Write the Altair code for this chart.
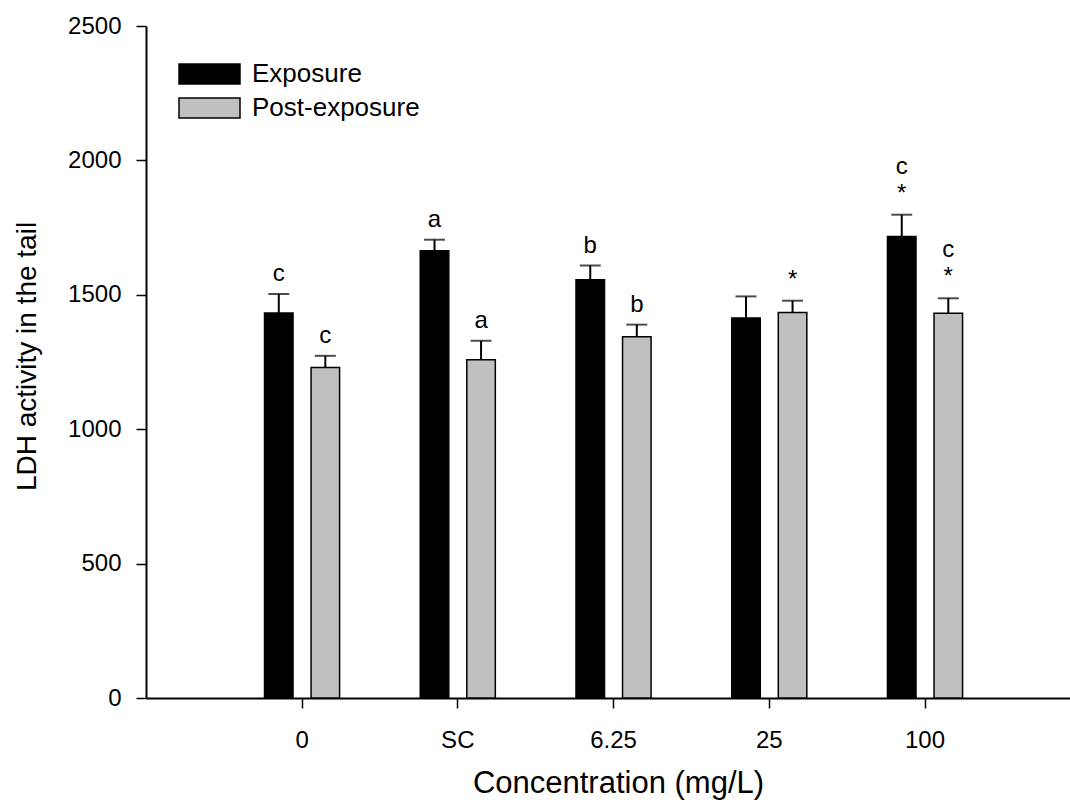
import altair as alt
import pandas as pd

categories = ["0", "SC", "6.25", "25", "100"]
groups = ["Exposure", "Post-exposure"]
exposure_mean = [1432, 1664, 1556, 1414, 1717]
exposure_err = [71, 41, 53, 80, 81]
post_mean = [1230, 1258, 1344, 1434, 1431]
post_err = [43, 71, 45, 44, 56]
exposure_letter = ["c", "a", "b", "", "c"]
post_letter = ["c", "a", "b", "", "c"]
exposure_star = ["", "", "", "", "*"]
post_star = ["", "", "", "*", "*"]
y_ticks = [0, 500, 1000, 1500, 2000, 2500]

rows = []
for i, c in enumerate(categories):
    rows.append(dict(conc=c, group=groups[0], mean=exposure_mean[i], err=exposure_err[i],
                     letter=exposure_letter[i], star=exposure_star[i]))
    rows.append(dict(conc=c, group=groups[1], mean=post_mean[i], err=post_err[i],
                     letter=post_letter[i], star=post_star[i]))
df = pd.DataFrame(rows)

FONT = "Liberation Sans"

xscale = alt.Scale(paddingInner=0.518, paddingOuter=0.7254, align=0.5245)
xaxis = alt.Axis(title="Concentration (mg/L)", titleFontSize=31, titleFont=FONT,
                 titleFontWeight="normal", titleColor="black",
                 titleX=472, titleY=94, titleBaseline="alphabetic", titleAnchor="start",
                 titleAlign="center",
                 labelFontSize=24, labelFont=FONT, labelColor="black", labelAngle=0,
                 labelBaseline="alphabetic", labelPadding=39,
                 tickSize=10, tickWidth=1.5, tickColor="black",
                 domainColor="black", domainWidth=2, grid=False)
yscale = alt.Scale(domain=[0, 2500], nice=False)
yaxis = alt.Axis(title="LDH activity in the tail", titleFontSize=28, titleFont=FONT,
                 titleFontWeight="normal", titleColor="black",
                 titleX=-111, titleY=330, titleBaseline="alphabetic", titleAngle=270,
                 titleAlign="center", format="d",
                 values=y_ticks, labelFontSize=24, labelFont=FONT, labelColor="black",
                 labelPadding=15, tickSize=10, tickWidth=1.5, tickColor="black",
                 domainColor="black", domainWidth=2, grid=False)

X = alt.X("conc:N", sort=categories, scale=xscale, axis=xaxis)
XO = alt.XOffset("group:N", sort=groups, scale=alt.Scale(paddingInner=0.387, paddingOuter=0))

base = alt.Chart(df).transform_calculate(hi="datum.mean + datum.err")

legend = alt.Legend(title=None, orient="none", legendX=32, legendY=37, padding=0,
                    symbolType="M-1,-0.328L1,-0.328L1,0.328L-1,0.328Z", symbolSize=3721,
                    symbolStrokeColor="black", symbolStrokeWidth=1.5, symbolOpacity=1,
                    clipHeight=22, rowPadding=8, labelFontSize=26, labelFont=FONT,
                    labelColor="black", labelOffset=11, labelLimit=400)

bars = base.mark_bar(stroke="black", strokeWidth=1.5).encode(
    x=X, xOffset=XO,
    y=alt.Y("mean:Q", scale=yscale, axis=yaxis),
    color=alt.Color("group:N", sort=groups,
                    scale=alt.Scale(domain=groups, range=["#000000", "#c0c0c0"]),
                    legend=legend),
)

err_rule = base.mark_rule(color="black", strokeWidth=2).encode(
    x=X, xOffset=XO,
    y=alt.Y("mean:Q", scale=yscale, axis=yaxis), y2="hi:Q",
)

err_cap = base.mark_tick(color="black", thickness=2, size=21, orient="horizontal").encode(
    x=X, xOffset=XO,
    y=alt.Y("hi:Q", scale=yscale, axis=yaxis),
)

txt_kw = dict(font=FONT, fontSize=24, color="black", baseline="alphabetic", align="center")

letters_plain = base.transform_filter("datum.letter != '' && datum.star == ''").mark_text(
    dy=-13, **txt_kw).encode(
    x=X, xOffset=XO, y=alt.Y("hi:Q", scale=yscale, axis=yaxis), text="letter:N")

letters_star = base.transform_filter("datum.letter != '' && datum.star != ''").mark_text(
    dy=-41, **txt_kw).encode(
    x=X, xOffset=XO, y=alt.Y("hi:Q", scale=yscale, axis=yaxis), text="letter:N")

stars = base.transform_filter("datum.star != ''").mark_text(
    dy=-14, **txt_kw).encode(
    x=X, xOffset=XO, y=alt.Y("hi:Q", scale=yscale, axis=yaxis), text="star:N")

chart = alt.layer(bars, err_rule, err_cap, letters_plain, letters_star, stars).properties(
    width=924, height=672,
    autosize=alt.AutoSizeParams(type="none"),
    padding={"left": 146, "top": 26, "right": 0, "bottom": 111},
    background="white",
).configure_view(stroke=None)

chart.save("out.html", embed_options={"renderer": "svg", "actions": False})
